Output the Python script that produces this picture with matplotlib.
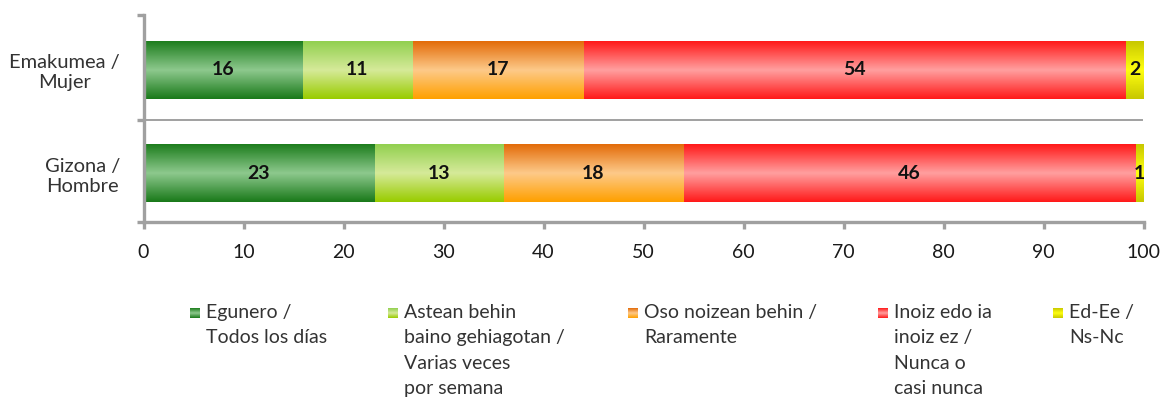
import numpy as np
import matplotlib.pyplot as plt
from matplotlib.colors import LinearSegmentedColormap

groups = ["Gizona /\nHombre", "Emakumea /\nMujer"]
categories = ["Egunero /\nTodos los días",
              "Astean behin\nbaino gehiagotan /\nVarias veces\npor semana",
              "Oso noizean behin /\nRaramente",
              "Inoiz edo ia\ninoiz ez /\nNunca o\ncasi nunca",
              "Ed-Ee /\nNs-Nc"]
# bar lengths: [Gizona, Emakumea]
values = [[23.1, 15.9],
          [12.9, 11.0],
          [18.0, 17.1],
          [45.2, 54.2],
          [0.8, 1.8]]
# printed labels
labels = [[23, 16],
          [13, 11],
          [18, 17],
          [46, 54],
          [1, 2]]
xticks = [0, 10, 20, 30, 40, 50, 60, 70, 80, 90, 100]

# top, middle, bottom colour of each gradient fill
shades = [("#1e7e1e", "#8ec98e", "#1a7a1a"),
          ("#92d050", "#d6ea9a", "#99cc00"),
          ("#e36c0a", "#fdca8a", "#ffa000"),
          ("#ff1a1a", "#ffa0a0", "#ff1a1a"),
          ("#c8c800", "#ffff10", "#c8c800")]

plt.rcParams['font.family'] = ['Lato', 'DejaVu Sans']

fig = plt.figure(figsize=(11.65, 4.01), dpi=100)
ax = fig.add_axes([143.5 / 1165, 1 - 222 / 401, 1000 / 1165, 207 / 401])

bar_h = 0.56
grad = np.linspace(0, 1, 64).reshape(-1, 1)
ypos = np.arange(len(groups))
left = np.zeros(len(groups))
for i, cat in enumerate(categories):
    cmap = LinearSegmentedColormap.from_list("c%d" % i, list(shades[i]))
    vals = np.array(values[i], dtype=float)
    ax.barh(ypos, vals, left=left, height=bar_h, color=shades[i][0], label=cat, linewidth=0)
    for j, y in enumerate(ypos):
        ax.imshow(grad, cmap=cmap, vmin=0, vmax=1, aspect='auto', interpolation='bilinear',
                  extent=[left[j], left[j] + vals[j], y - bar_h / 2, y + bar_h / 2], zorder=2)
        ax.text(left[j] + vals[j] / 2, y, str(labels[i][j]), ha='center', va='center',
                fontsize=14, fontweight='bold', color='#111111', zorder=3)
    left += vals

ax.set_xlim(0, 100)
ax.set_ylim(-0.47, 1.53)
ax.axhline(0.515, xmin=0, xmax=0.998, color='#a0a0a0', lw=1.4, zorder=1)

for s in ['top', 'right']:
    ax.spines[s].set_visible(False)
for s in ['left', 'bottom']:
    ax.spines[s].set_color('#a0a0a0')
    ax.spines[s].set_linewidth(2.4)

ax.set_xticks(xticks)
ax.set_xticklabels([str(t) for t in xticks])
ax.tick_params(axis='x', direction='out', length=5, width=2.4, color='#a0a0a0',
               labelsize=14, labelcolor='#1a1a1a', pad=11)
ax.set_yticks(ypos)
ax.set_yticklabels(groups, multialignment='center')
ax.set_yticks([-0.47, 0.515, 1.53], minor=True)
ax.tick_params(axis='y', which='major', length=0, labelsize=14.5, labelcolor='#333333', pad=17)
ax.tick_params(axis='y', which='minor', direction='out', length=5, width=2.4, color='#a0a0a0')

# legend drawn by hand below the axes
leg_x = [190, 388, 628, 878, 1053]
for i, cat in enumerate(categories):
    x0 = leg_x[i] / 1165
    cmap = LinearSegmentedColormap.from_list("l%d" % i, list(shades[i]))
    pax = fig.add_axes([x0, 1 - 318 / 401, 10 / 1165, 10 / 401])
    pax.imshow(grad, cmap=cmap, vmin=0, vmax=1, aspect='auto', interpolation='bilinear')
    pax.axis('off')
    fig.text(x0 + 16 / 1165, 1 - 304 / 401, cat, ha='left', va='top', fontsize=14,
             color='#333333', linespacing=1.6)

fig.savefig("out.png", dpi=100)
